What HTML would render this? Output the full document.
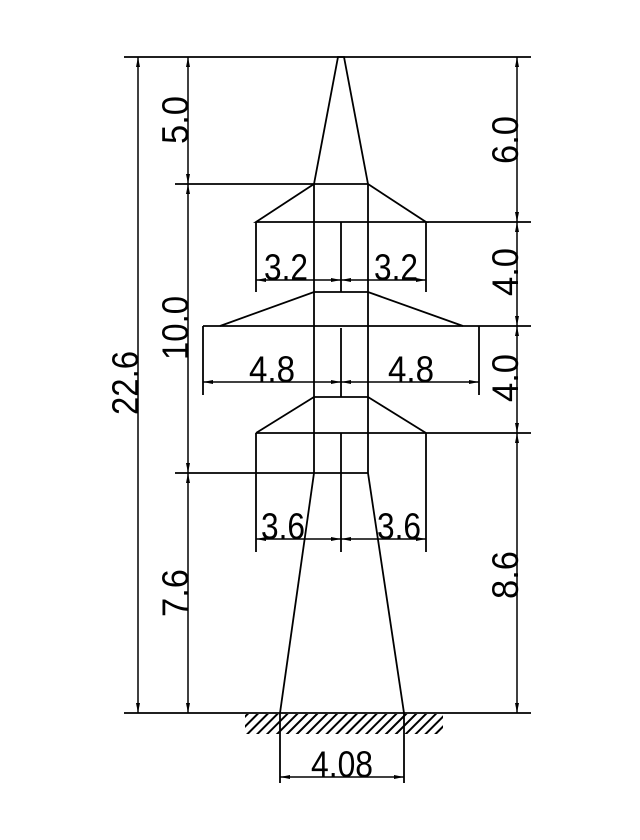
<!DOCTYPE html>
<html><head><meta charset="utf-8"><style>html,body{margin:0;padding:0;background:#fff}svg{display:block}</style></head>
<body>
<svg width="640" height="840" viewBox="0 0 640 840" xmlns="http://www.w3.org/2000/svg">
<defs>
<marker id="a" viewBox="0 0 10 4" refX="10" refY="2" markerWidth="10" markerHeight="4" markerUnits="userSpaceOnUse" orient="auto-start-reverse"><path d="M0,0 L10,2 L0,4z" fill="#000"/></marker>
<pattern id="h" width="7" height="7" patternUnits="userSpaceOnUse" patternTransform="rotate(45)"><rect width="2" height="7" fill="#000"/></pattern>
</defs>
<g stroke="#000" stroke-width="1.8" fill="none">
<line x1="124" y1="57" x2="531" y2="57"/>
<line x1="124" y1="713" x2="531" y2="713"/>
<polyline points="314,184 338,57 344,57 368,184"/>
<line x1="175" y1="184" x2="368" y2="184"/>
<line x1="314" y1="184" x2="314" y2="473"/>
<line x1="368" y1="184" x2="368" y2="473"/>
<line x1="175" y1="473" x2="368" y2="473"/>
<line x1="314" y1="473" x2="280" y2="713"/>
<line x1="368" y1="473" x2="404" y2="713"/>
<polyline points="314,184 256,222 426,222 368,184"/>
<line x1="426" y1="222" x2="531" y2="222"/>
<line x1="256" y1="222" x2="256" y2="292"/>
<line x1="426" y1="222" x2="426" y2="292"/>
<line x1="341" y1="222" x2="341" y2="292"/>
<polyline points="220,326 314,292 368,292 463,326"/>
<line x1="203" y1="326" x2="531" y2="326"/>
<line x1="203" y1="326" x2="203" y2="395"/>
<line x1="479" y1="326" x2="479" y2="395"/>
<line x1="341" y1="328" x2="341" y2="397"/>
<polyline points="256,433 314,397 368,397 426,433"/>
<line x1="256" y1="433" x2="531" y2="433"/>
<line x1="256" y1="433" x2="256" y2="552"/>
<line x1="426" y1="433" x2="426" y2="552"/>
<line x1="341" y1="433" x2="341" y2="552"/>
<line x1="280" y1="713" x2="280" y2="783"/>
<line x1="404" y1="713" x2="404" y2="783"/>
</g>
<rect x="245" y="714" width="198" height="20" fill="url(#h)"/>
<g stroke="#000" stroke-width="1.5" fill="none" marker-start="url(#a)" marker-end="url(#a)">
<line x1="138" y1="57" x2="138" y2="713"/>
<line x1="188" y1="57" x2="188" y2="184"/>
<line x1="188" y1="184" x2="188" y2="473"/>
<line x1="188" y1="473" x2="188" y2="713"/>
<line x1="517" y1="57" x2="517" y2="222"/>
<line x1="517" y1="222" x2="517" y2="326"/>
<line x1="517" y1="326" x2="517" y2="433"/>
<line x1="517" y1="433" x2="517" y2="713"/>
<line x1="256" y1="280" x2="341" y2="280"/>
<line x1="341" y1="280" x2="426" y2="280"/>
<line x1="203" y1="382" x2="341" y2="382"/>
<line x1="341" y1="382" x2="479" y2="382"/>
<line x1="256" y1="539" x2="341" y2="539"/>
<line x1="341" y1="539" x2="426" y2="539"/>
<line x1="280" y1="777" x2="404" y2="777"/>
</g>
<g font-family="Liberation Sans, sans-serif" font-size="37" fill="#000" text-anchor="middle">
<text x="286" y="280" textLength="44" lengthAdjust="spacingAndGlyphs">3.2</text>
<text x="396" y="280" textLength="44" lengthAdjust="spacingAndGlyphs">3.2</text>
<text x="272" y="382" textLength="46" lengthAdjust="spacingAndGlyphs">4.8</text>
<text x="411" y="382" textLength="46" lengthAdjust="spacingAndGlyphs">4.8</text>
<text x="283" y="539" textLength="44" lengthAdjust="spacingAndGlyphs">3.6</text>
<text x="399" y="539" textLength="44" lengthAdjust="spacingAndGlyphs">3.6</text>
<text x="342" y="777" textLength="62" lengthAdjust="spacingAndGlyphs">4.08</text>
<text transform="translate(188,120) rotate(-90)" textLength="48" lengthAdjust="spacingAndGlyphs">5.0</text>
<text transform="translate(188,328) rotate(-90)" textLength="64" lengthAdjust="spacingAndGlyphs">10.0</text>
<text transform="translate(188,593) rotate(-90)" textLength="48" lengthAdjust="spacingAndGlyphs">7.6</text>
<text transform="translate(138,383) rotate(-90)" textLength="64" lengthAdjust="spacingAndGlyphs">22.6</text>
<text transform="translate(518,140) rotate(-90)" textLength="48" lengthAdjust="spacingAndGlyphs">6.0</text>
<text transform="translate(518,272) rotate(-90)" textLength="48" lengthAdjust="spacingAndGlyphs">4.0</text>
<text transform="translate(518,378) rotate(-90)" textLength="48" lengthAdjust="spacingAndGlyphs">4.0</text>
<text transform="translate(518,575) rotate(-90)" textLength="48" lengthAdjust="spacingAndGlyphs">8.6</text>
</g>
</svg>
</body></html>
